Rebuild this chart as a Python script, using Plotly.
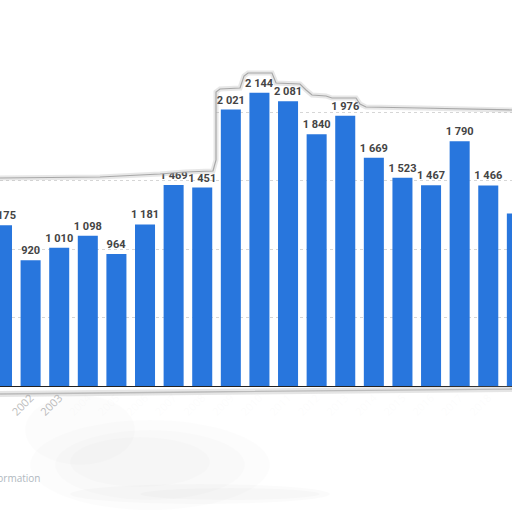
import plotly.graph_objects as go

years = [2001, 2002, 2003, 2004, 2005, 2006, 2007, 2008, 2009, 2010,
         2011, 2012, 2013, 2014, 2015, 2016, 2017, 2018, 2019]
values = [1175, 920, 1010, 1098, 964, 1181, 1469, 1451, 2021, 2144,
          2081, 1840, 1976, 1669, 1523, 1467, 1790, 1466, 1261]

W, H = 512, 512
ML, MR, MT, MB = 0, 0, 44, 126
PH = H - MT - MB


def px(x):
    return x / W


def py(y):
    return (H - MB - y) / PH


fig = go.Figure()
fig.add_trace(go.Bar(
    x=years, y=values, width=0.7,
    marker=dict(color="#2876dd", line=dict(width=0)),
    texttemplate="%{y:,}", textposition="outside", constraintext="none",
    textfont=dict(family="Roboto", size=11, color="#444444", weight="bold"),
    cliponaxis=False, hoverinfo="skip",
))

shapes = []
# top torn edge: white above, grey shadow line
tear = [(0, 178), (100, 177), (160, 174), (185, 172), (213, 171), (216, 160),
        (216, 92), (220, 89), (240, 88), (244, 76), (248, 73), (272, 73),
        (276, 83), (300, 84), (306, 90), (312, 95), (326, 96), (332, 98),
        (356, 98), (360, 104), (366, 107), (420, 108), (512, 110)]
path_line = "M " + " L ".join(f"{px(a):.4f},{py(b):.4f}" for a, b in tear)
path_fill = (f"M {px(-5):.4f},{py(-5):.4f} L {px(517):.4f},{py(-5):.4f} L "
             f"{px(517):.4f},{py(110):.4f} L "
             + " L ".join(f"{px(a):.4f},{py(b):.4f}" for a, b in reversed(tear))
             + f" L {px(-5):.4f},{py(178):.4f} Z")
shapes.append(dict(type="path", path=path_fill, xref="paper", yref="paper",
                   fillcolor="white", line=dict(width=0), layer="above"))
shapes.append(dict(type="path", path=path_line, xref="paper", yref="paper",
                   line=dict(color="rgba(160,160,160,0.25)", width=5), layer="above"))
shapes.append(dict(type="path", path=path_line, xref="paper", yref="paper",
                   line=dict(color="#a8a8a8", width=1.2), layer="above"))

# blurred lower region
shapes.append(dict(type="rect", xref="paper", yref="paper",
                   x0=px(68), x1=px(520), y0=py(520), y1=py(392),
                   fillcolor="rgba(255,255,255,0.95)", line=dict(width=0), layer="above"))
for (cx, cy, rx, ry, a) in [(150, 465, 120, 45, 0.012), (150, 465, 95, 35, 0.012),
                            (140, 462, 70, 25, 0.012), (200, 494, 130, 10, 0.015),
                            (230, 494, 90, 6, 0.015), (80, 430, 55, 35, 0.012)]:
    shapes.append(dict(type="circle", xref="paper", yref="paper",
                       x0=px(cx - rx), x1=px(cx + rx), y0=py(cy + ry), y1=py(cy - ry),
                       fillcolor=f"rgba(0,0,0,{a})", line=dict(width=0), layer="above"))
# bottom torn edge
bl = f"M {px(0):.4f},{py(394):.4f} L {px(200):.4f},{py(392):.4f} L {px(512):.4f},{py(389):.4f}"
shapes.append(dict(type="path", path=bl, xref="paper", yref="paper",
                   line=dict(color="rgba(150,150,150,0.25)", width=6), layer="above"))
shapes.append(dict(type="path", path=bl, xref="paper", yref="paper",
                   line=dict(color="#bbbbbb", width=1.3), layer="above"))

fig.update_layout(
    width=W, height=H,
    margin=dict(l=ML, r=MR, t=MT, b=MB, pad=0, autoexpand=False),
    paper_bgcolor="white", plot_bgcolor="white",
    separators=". ",
    showlegend=False,
    shapes=shapes,
    annotations=[dict(text="Additional Information", xref="paper", yref="paper",
                      x=px(42), y=py(478), xanchor="right", yanchor="middle",
                      showarrow=False,
                      font=dict(family="Open Sans", size=10, color="#b0b8c0"))],
    xaxis=dict(range=[2000.93, 2018.83], tickmode="array", tickvals=years,
               ticktext=[str(y) for y in years], tickangle=-45, automargin=False,
               tickfont=dict(family="Open Sans", size=11, color="#bdbdbd"),
               showline=True, linecolor="#222222", linewidth=1.3,
               showgrid=False, zeroline=False, ticks=""),
    yaxis=dict(range=[0, 2500], tickvals=[500, 1000, 1500, 2000, 2500],
               showticklabels=False, showgrid=True, gridcolor="#d6d6d6",
               griddash="dot", gridwidth=1, zeroline=False, automargin=False),
)

fig.write_html("out.html", config={"displayModeBar": False},
               post_script="document.body.style.margin='0';document.body.style.overflow='hidden';")
